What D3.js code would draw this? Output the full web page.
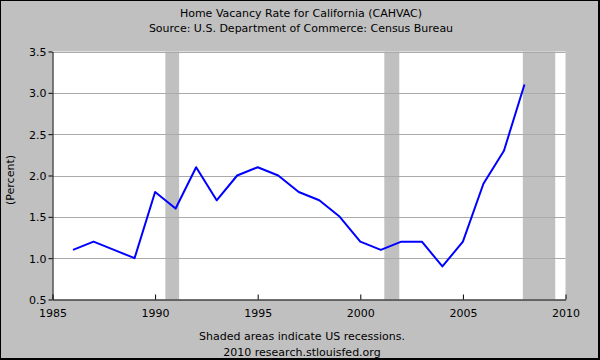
<!DOCTYPE html>
<html><head><meta charset="utf-8">
<script src="https://cdn.jsdelivr.net/npm/d3@7"></script>
<style>body{margin:0;background:#fff}svg{display:block}text{font-family:"DejaVu Sans",Verdana,sans-serif;font-size:11px;fill:#000}</style>
</head><body>
<svg id="c" width="600" height="360"></svg>
<script>
const years = [1986,1987,1988,1989,1990,1991,1992,1993,1994,1995,1996,1997,1998,1999,2000,2001,2002,2003,2004,2005,2006,2007,2008];
const rates = [1.1,1.2,1.1,1.0,1.8,1.6,2.1,1.7,2.0,2.1,2.0,1.8,1.7,1.5,1.2,1.1,1.2,1.2,0.9,1.2,1.9,2.3,3.1];
const recessionStarts = [1990.5, 2001.17, 2007.92];
const recessionEnds = [1991.17, 2001.9, 2009.5];
const xTicks = [1985,1990,1995,2000,2005,2010];
const yTicks = [0.5,1.0,1.5,2.0,2.5,3.0,3.5];
const titleLines = ["Home Vacancy Rate for California (CAHVAC)","Source: U.S. Department of Commerce: Census Bureau"];
const footLines = ["Shaded areas indicate US recessions.","2010 research.stlouisfed.org"];

const svg = d3.select("#c");
const W=600,H=360, L=52.5, R=565.5, T=51.5, B=299.5;
svg.append("rect").attr("width",W).attr("height",H).attr("fill","#c0c0c0");
const x = d3.scaleLinear().domain([1985,2010]).range([L,R]);
const y = d3.scaleLinear().domain([0.5,3.5]).range([B,T]);

svg.append("rect").attr("x",L).attr("y",T).attr("width",R-L).attr("height",B-T).attr("fill","#fff");
recessionStarts.forEach((s,i)=>{
  svg.append("rect").attr("x",x(s)).attr("y",T).attr("width",x(recessionEnds[i])-x(s)).attr("height",B-T).attr("fill","#c0c0c0");
});
// gridlines
svg.append("g").selectAll("line").data(yTicks.slice(1)).join("line")
  .attr("x1",L).attr("x2",R).attr("y1",d=>Math.round(y(d))+0.5).attr("y2",d=>Math.round(y(d))+0.5)
  .attr("stroke","#aaaaaa").attr("stroke-width",1);

// line
svg.append("path").datum(years.map((yr,i)=>[yr,rates[i]]))
  .attr("d",d3.line().x(d=>x(d[0])).y(d=>y(d[1])))
  .attr("fill","none").attr("stroke","#0000ff").attr("stroke-width",2).attr("stroke-linejoin","round");

// axes
const xa = svg.append("g").attr("transform",`translate(0,${B})`)
  .call(d3.axisBottom(x).tickValues(xTicks).tickFormat(d3.format("d")).tickSizeInner(-5).tickSizeOuter(0).tickPadding(10));
const ya = svg.append("g").attr("transform",`translate(${L},0)`)
  .call(d3.axisLeft(y).tickValues(yTicks).tickFormat(d3.format(".1f")).tickSizeInner(4).tickSizeOuter(0).tickPadding(2));
[xa,ya].forEach(g=>{
  g.selectAll("path").attr("stroke","#000");
  g.selectAll("line").attr("stroke","#000");
  g.selectAll("text").style("font-family",'"DejaVu Sans",Verdana,sans-serif').style("font-size","11px").attr("fill","#000");
});
ya.selectAll(".tick text").attr("dy","0.35em");

svg.append("text").attr("transform","translate(14,180) rotate(-90)").attr("text-anchor","middle").text("(Percent)");

titleLines.forEach((t,i)=>svg.append("text").attr("x",301).attr("y",17+i*15).attr("text-anchor","middle").text(t));
footLines.forEach((t,i)=>svg.append("text").attr("x",302).attr("y",340+i*16).attr("text-anchor","middle").text(t));

// border
svg.append("rect").attr("x",0).attr("y",0).attr("width",1).attr("height",H).attr("fill","#000");
svg.append("rect").attr("x",0).attr("y",0).attr("width",W).attr("height",1).attr("fill","#000");
svg.append("rect").attr("x",W-2).attr("y",0).attr("width",2).attr("height",H).attr("fill","#000");
svg.append("rect").attr("x",0).attr("y",H-2).attr("width",W).attr("height",2).attr("fill","#000");
</script>
</body></html>
